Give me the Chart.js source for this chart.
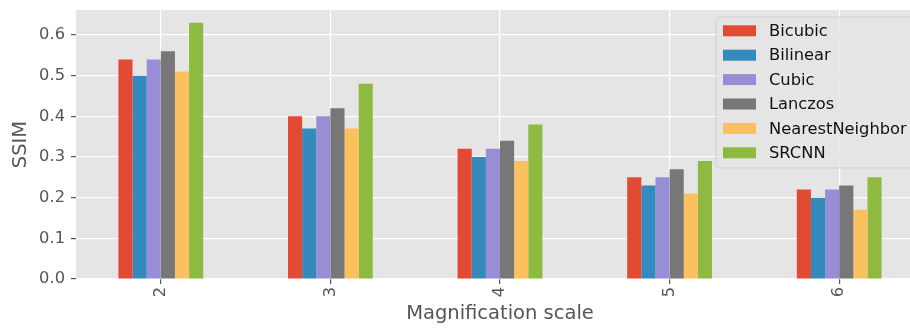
<!DOCTYPE html>
<html>
<head>
<meta charset="utf-8">
<script src="https://cdn.jsdelivr.net/npm/chart.js@4.4.1/dist/chart.umd.min.js"></script>
<style>
  html, body { margin: 0; padding: 0; background: #fff; overflow: hidden; }
  #wrap { width: 910px; height: 329px; overflow: hidden; }
</style>
</head>
<body>
<div id="wrap"><canvas id="chart" width="940" height="329"></canvas></div>
<script>
// magnification scales on the x axis
const scales = ['2', '3', '4', '5', '6'];

// SSIM per interpolation method
const bicubic         = [0.54, 0.40, 0.32, 0.25, 0.22];
const bilinear        = [0.50, 0.37, 0.30, 0.23, 0.20];
const cubic           = [0.54, 0.40, 0.32, 0.25, 0.22];
const lanczos         = [0.56, 0.42, 0.34, 0.27, 0.23];
const nearestNeighbor = [0.51, 0.37, 0.29, 0.21, 0.17];
const srcnn           = [0.63, 0.48, 0.38, 0.29, 0.25];

const yTicks = [0.0, 0.1, 0.2, 0.3, 0.4, 0.5, 0.6];

const FONT = 'DejaVu Sans';

// legend drawn inside the plot, like matplotlib's "upper right"
const boxLegend = {
  id: 'boxLegend',
  afterDraw(chart) {
    const ctx = chart.ctx;
    const x = 716, y = 17, w = 240, h = 151;
    ctx.save();
    ctx.beginPath();
    ctx.roundRect(x, y, w, h, 4);
    ctx.fillStyle = 'rgba(229,229,229,0.8)';
    ctx.fill();
    ctx.strokeStyle = 'rgba(204,204,204,0.8)';
    ctx.lineWidth = 1;
    ctx.stroke();
    ctx.font = '16.3px "' + FONT + '"';
    ctx.textBaseline = 'middle';
    ctx.textAlign = 'left';
    chart.data.datasets.forEach((ds, i) => {
      const cy = 30.8 + i * 24.4;
      ctx.fillStyle = ds.backgroundColor;
      ctx.fillRect(723, cy - 5.5, 33, 11);
      ctx.fillStyle = '#111';
      ctx.fillText(ds.label, 769, cy + 1);
    });
    ctx.restore();
  }
};

// grey plot background
const panelBg = {
  id: 'panelBg',
  beforeDraw(chart) {
    const { ctx, chartArea: a } = chart;
    ctx.save();
    ctx.fillStyle = '#E5E5E5';
    ctx.fillRect(a.left, a.top, a.right - a.left, a.bottom - a.top);
    ctx.restore();
  }
};

new Chart(document.getElementById('chart'), {
  type: 'bar',
  data: {
    labels: scales,
    datasets: [
      { label: 'Bicubic', data: bicubic, backgroundColor: '#E24A33' },
      { label: 'Bilinear', data: bilinear, backgroundColor: '#348ABD' },
      { label: 'Cubic', data: cubic, backgroundColor: '#988ED5' },
      { label: 'Lanczos', data: lanczos, backgroundColor: '#777777' },
      { label: 'NearestNeighbor', data: nearestNeighbor, backgroundColor: '#FBC15E' },
      { label: 'SRCNN', data: srcnn, backgroundColor: '#8EBA42' }
    ]
  },
  options: {
    responsive: false,
    animation: false,
    devicePixelRatio: 1,
    categoryPercentage: 0.5,
    barPercentage: 1.0,
    borderWidth: 0,
    layout: { padding: { top: 10, right: 16, left: 0, bottom: 0 } },
    scales: {
      x: {
        offset: true,
        grid: {
          offset: false,
          color: '#FFFFFF',
          lineWidth: 1.2,
          tickColor: '#555555',
          tickLength: 5,
          drawTicks: true
        },
        border: { display: false },
        ticks: {
          color: '#555555',
          font: { family: FONT, size: 16.3 },
          minRotation: 90,
          maxRotation: 90,
          padding: 3
        },
        title: {
          display: true,
          text: 'Magnification scale',
          color: '#555555',
          font: { family: FONT, size: 19.5 },
          padding: { top: 0, bottom: 3 }
        },
        afterFit(scale) {
          scale.height = 50;
          scale.paddingLeft = 0;
          scale.paddingRight = 0;
        }
      },
      y: {
        min: 0,
        max: 0.6615,
        grid: {
          color: '#FFFFFF',
          lineWidth: 1.2,
          tickColor: '#555555',
          tickLength: 5
        },
        border: { display: false },
        ticks: {
          color: '#555555',
          font: { family: FONT, size: 16.3 },
          padding: 6,
          callback: v => Number(v).toFixed(1)
        },
        afterBuildTicks(scale) {
          scale.ticks = yTicks.map(v => ({ value: v }));
        },
        title: {
          display: true,
          text: 'SSIM',
          color: '#555555',
          font: { family: FONT, size: 19.5 },
          padding: { top: 9, bottom: 0 }
        },
        afterFit(scale) {
          scale.width = 76;
          scale.paddingTop = 0;
          scale.paddingBottom = 0;
        }
      }
    },
    plugins: {
      legend: { display: false },
      tooltip: { enabled: false }
    }
  },
  plugins: [panelBg, boxLegend]
});
</script>
</body>
</html>
